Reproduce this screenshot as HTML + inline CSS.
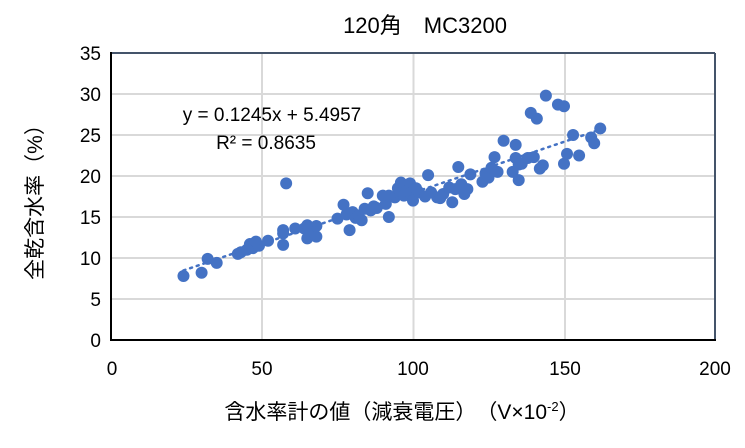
<!DOCTYPE html>
<html><head><meta charset="utf-8"><style>
body{margin:0;background:#fff;}
svg text{font-family:"Liberation Sans","Noto Sans CJK JP",sans-serif;fill:#000;}
</style></head><body>
<svg width="745" height="443" xmlns="http://www.w3.org/2000/svg">
<rect width="745" height="443" fill="#fff"/>
<g stroke="#d9d9d9" stroke-width="2">
<line x1="262" y1="53" x2="262" y2="340"/><line x1="413.5" y1="53" x2="413.5" y2="340"/><line x1="565" y1="53" x2="565" y2="340"/>
<line x1="111" y1="94" x2="715" y2="94"/><line x1="111" y1="135" x2="715" y2="135"/><line x1="111" y1="176" x2="715" y2="176"/><line x1="111" y1="217" x2="715" y2="217"/><line x1="111" y1="258" x2="715" y2="258"/><line x1="111" y1="299" x2="715" y2="299"/>
</g>
<line x1="111" y1="53" x2="715" y2="53" stroke="#44546a" stroke-width="2"/>
<line x1="715" y1="53" x2="715" y2="340" stroke="#44546a" stroke-width="2"/>
<line x1="111" y1="52" x2="111" y2="341" stroke="#000" stroke-width="2"/>
<line x1="110" y1="340" x2="716" y2="340" stroke="#000" stroke-width="2"/>
<g id="pts" fill="#4472c4"></g>
<line id="tr" stroke="#4472c4" stroke-width="2.5" stroke-dasharray="2,5" stroke-linecap="round"/>
<text x="425" y="33" font-size="22" text-anchor="middle">120角　MC3200</text>
<text x="272" y="121" font-size="19" text-anchor="middle">y = 0.1245x + 5.4957</text>
<text x="266" y="149" font-size="19" text-anchor="middle">R² = 0.8635</text>
<g font-size="19" text-anchor="end">
<text x="101" y="347">0</text><text x="101" y="306">5</text><text x="101" y="265">10</text><text x="101" y="224">15</text><text x="101" y="183">20</text><text x="101" y="142">25</text><text x="101" y="101">30</text><text x="101" y="60">35</text>
</g>
<g font-size="19" text-anchor="middle">
<text x="112" y="375">0</text><text x="262" y="375">50</text><text x="413" y="375">100</text><text x="565" y="375">150</text><text x="715" y="375">200</text>
</g>
<text x="402" y="419" font-size="21" text-anchor="middle">含水率計の値（減衰電圧）　（V×10<tspan font-size="13" dy="-8">-2</tspan><tspan dy="8">）</tspan></text>
<text transform="translate(42,197) rotate(-90)" font-size="21" text-anchor="middle">全乾含水率（%）</text>
</svg>
<script>
var d=[[24,7.8],[30,8.2],[32,9.9],[35,9.4],[42,10.5],[43,10.7],[45,11.0],[46,11.7],[47,11.2],[48,12.0],[49,11.5],[52,12.1],[57,13.0],[57,11.6],[57,13.4],[58,19.1],[61,13.6],[64,13.6],[65,14.0],[65,12.4],[67,13.2],[68,12.6],[68,13.9],[75,14.8],[77,16.5],[78,15.3],[79,13.4],[80,15.6],[81,14.9],[82,15.2],[83,14.6],[84,16.0],[85,17.9],[86,15.8],[87,16.3],[88,16.1],[90,17.6],[91,16.6],[92,15.0],[92,17.6],[94,17.4],[95,18.5],[96,19.2],[96,17.9],[97,17.6],[98,18.2],[99,19.1],[99,17.9],[100,17.0],[101,18.5],[102,18.0],[104,17.5],[105,20.1],[106,18.0],[108,17.4],[109,17.3],[110,17.8],[112,18.6],[113,16.8],[114,18.4],[115,21.1],[116,19.0],[117,17.8],[118,18.4],[119,20.2],[123,19.3],[124,20.3],[125,19.8],[126,21.0],[127,22.3],[128,20.5],[130,24.3],[133,20.5],[134,22.2],[134,23.8],[135,19.5],[135,21.4],[136,21.5],[138,22.2],[139,27.7],[140,22.3],[141,27.0],[142,20.9],[143,21.3],[144,29.8],[148,28.7],[150,28.5],[150,21.5],[151,22.7],[153,25.0],[155,22.5],[159,24.7],[160,24.0],[162,25.8]];
function X(v){return 111+v*3.02}function Y(v){return 340-v*8.2}
var g=document.getElementById('pts'),s='';
d.forEach(function(p){s+='<circle cx="'+X(p[0])+'" cy="'+Y(p[1])+'" r="6"/>'});g.innerHTML=s;
var t=document.getElementById('tr');
t.setAttribute('x1',X(24));t.setAttribute('y1',Y(0.1245*24+5.4957));t.setAttribute('x2',X(162));t.setAttribute('y2',Y(0.1245*162+5.4957));
</script>
</body></html>
